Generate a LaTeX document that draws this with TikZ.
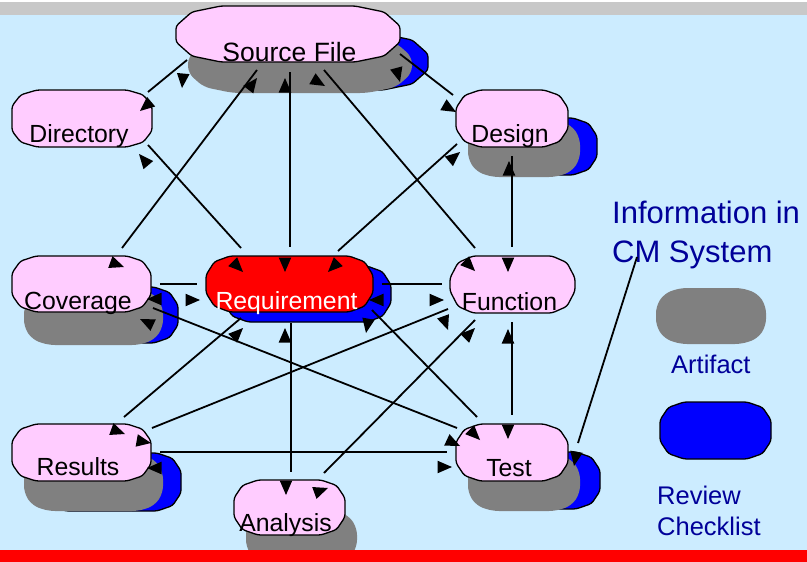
\documentclass[tikz,border=0pt]{standalone}
\usepackage{fontspec}
\setmainfont{Liberation Sans}
\definecolor{bgblue}{HTML}{CCECFF}
\definecolor{pinkf}{HTML}{FFCCFF}
\definecolor{grayf}{HTML}{808080}
\definecolor{barg}{HTML}{C8C8C8}
\definecolor{navy}{HTML}{000099}
\definecolor{bluef}{HTML}{0000FF}
\definecolor{redf}{HTML}{FF0000}
% #1 style, #2 x0, #3 y0, #4 x1, #5 y1, #6 cx, #7 cy
\newcommand\octbox[7]{\path[#1] (#2,{#3+#7}) -- ({#2+0.35*#6},{#3+0.3*#7}) -- ({#2+#6},#3) -- ({#4-#6},#3) -- ({#4-0.35*#6},{#3+0.3*#7}) -- (#4,{#3+#7}) -- (#4,{#5-#7}) -- ({#4-0.35*#6},{#5-0.3*#7}) -- ({#4-#6},#5) -- ({#2+#6},#5) -- ({#2+0.35*#6},{#5-0.3*#7}) -- (#2,{#5-#7}) -- cycle;}
% arrow head: tip x, tip y, angle (screen, y down)
\newcommand\arh[3]{\fill ({#1},{#2}) -- ({#1-14.5*cos(#3)-6.3*sin(#3)},{#2-14.5*sin(#3)+6.3*cos(#3)}) -- ({#1-14.5*cos(#3)+6.3*sin(#3)},{#2-14.5*sin(#3)-6.3*cos(#3)}) -- cycle;}
\tikzset{
  pinkbox/.style={fill=pinkf, draw=black, line width=1.3pt, rounded corners=3pt},
  redbox/.style={fill=redf, draw=black, line width=1.3pt, rounded corners=3pt},
  graybox/.style={fill=grayf, rounded corners=7pt},
  bluebox/.style={fill=bluef, draw=black, line width=1.3pt, rounded corners=3pt},
  conn/.style={draw=black, line width=1.8pt},
  lbl/.style={inner sep=0pt, anchor=base, font=\fontsize{24.8}{28}\selectfont},
  leg/.style={inner sep=0pt, anchor=base west, text=navy, font=\fontsize{31}{36}\selectfont},
  legs/.style={inner sep=0pt, anchor=base west, text=navy, font=\fontsize{25.5}{30}\selectfont}
}
\begin{document}
\begin{tikzpicture}[x=1pt, y=-1pt]
\useasboundingbox (0,0) rectangle (807,562);
\begin{scope}
\clip (0,0) rectangle (807,562);
\fill[bgblue] (0,0) rectangle (807,562);
\fill[barg] (0,1.5) rectangle (807,15);
\fill[white] (0,0) rectangle (807,1.5);
% Source File
\octbox{bluebox}{204}{34}{428}{90}{45}{20}
\octbox{graybox}{188}{37}{412}{93}{45}{20}
\octbox{pinkbox}{176}{6}{400}{62}{45}{20}
% Directory
\octbox{pinkbox}{12}{90}{152}{147}{25}{16}
% Design
\octbox{bluebox}{485}{118}{597}{175}{24}{18}
\octbox{graybox}{468}{120}{580}{177}{24}{18}
\octbox{pinkbox}{456}{90}{568}{147}{24}{18}
% Coverage
\octbox{bluebox}{39}{287}{178}{343}{24}{18}
\octbox{graybox}{24}{289}{163}{345}{24}{18}
\octbox{pinkbox}{12}{256}{151}{312}{24}{17}
% Requirement
\octbox{bluebox}{224}{266}{391}{322}{24}{19}
\octbox{redbox}{206}{256}{373}{312}{24}{19}
% Function
\octbox{pinkbox}{450}{256}{575}{313}{23}{22}
% Results
\octbox{bluebox}{42}{453}{181}{511}{24}{18}
\octbox{graybox}{24}{454}{163}{511}{24}{18}
\octbox{pinkbox}{12}{424}{151}{481}{24}{17}
% Analysis
\octbox{graybox}{246}{510}{357}{565}{24}{18}
\octbox{pinkbox}{234}{480}{345}{535}{24}{18}
% Test
\octbox{bluebox}{488}{452}{600}{509}{24}{18}
\octbox{graybox}{468}{454}{580}{511}{24}{18}
\octbox{pinkbox}{456}{424}{568}{481}{24}{18}
% legend shapes
\octbox{graybox}{656}{288}{766}{344}{24}{18}
\octbox{bluebox}{660}{402}{771}{459}{24}{18}
% labels
\node[lbl, font=\fontsize{26.5}{30}\selectfont] (src) at (289.5,61.5) {Source File};
\node[lbl] (dir) at (79,142) {Directory};
\node[lbl] (des) at (510,142) {Design};
\node[lbl] (cov) at (78,309) {Coverage};
\node[lbl, text=white] (req) at (286.5,309) {Requirement};
\node[lbl] (fun) at (509.5,310) {Function};
\node[lbl] (res) at (78,475) {Results};
\node[lbl] (ana) at (285.5,531) {Analysis};
\node[lbl] (tst) at (509,476) {Test};
\node[leg] (info1) at (612,223) {Information in};
\node[leg] (info2) at (612,262) {CM System};
\node[legs] (art) at (671,373) {Artifact};
\node[legs] (rev) at (657,504) {Review};
\node[legs] (chk) at (657,535) {Checklist};
% connectors
\foreach \n/\xa/\ya/\xb/\yb in {
  c1/148/92/187/60, c2/122/248/257/70, c3/290/72/290/247, c4/324/70/475/248,
  c5/400/54/453/95, c6/148/145/241/248, c7/457/144/338/251, c8/512/156/512/247,
  c9/160/284/197/284, c10/382/284/442/284, c13/291/323/291/472, c14/153/308/457/428,
  c15/241/318/124/417, c16/448/309/152/428, c17/324/473/475/320, c18/372/310/477/417,
  c19/512/322/512/415, c20/160/452/447/452, c21/637/257/578/443}
{\coordinate (\n-a) at (\xa,\ya); \coordinate (\n-b) at (\xb,\yb); \draw[conn] (\n-a) -- (\n-b);}
% arrow heads
\foreach \x/\y/\a in {
  140/111/140, 182/88/95, 257/78/-53, 124/267/20, 285/78/-90, 285/272/90,
  325/86/30, 475/271/45, 400/82/75, 456/112/30, 139/154/-130, 243/272/45,
  460/152/-40, 328/272/135, 509/161/-90, 508/272/90, 200/300/0, 147/299/180,
  444/300/0, 369/300/180, 285/328/-90, 286/495/90, 140/319/-155, 460/446/25,
  243/328/-45, 125/434/20, 448/330/70, 151/443/10, 475/328/-45, 328/488/-20,
  366/333/100, 480/440/45, 508/329/-90, 508/439/90, 147/468/180, 452/467/0,
  574/466/100}
{\arh{\x}{\y}{\a}}
% bottom red bar
\fill[redf] (0,550) rectangle (807,562);
\end{scope}
\end{tikzpicture}
\end{document}
